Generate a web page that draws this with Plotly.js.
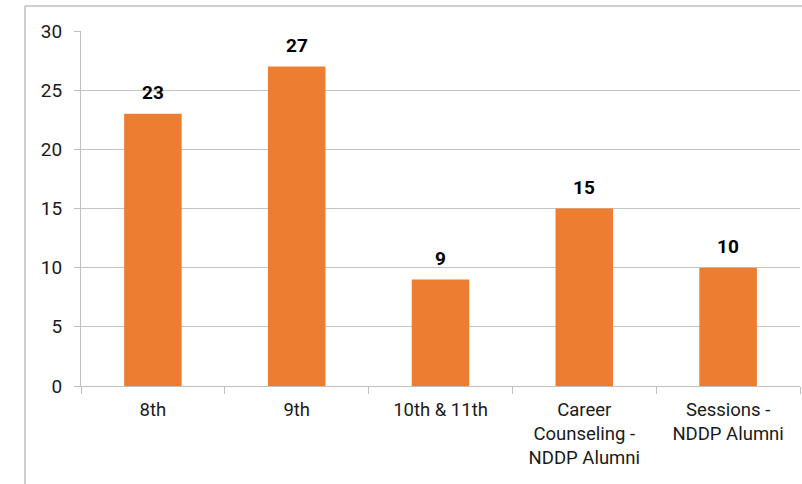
<!DOCTYPE html>
<html>
<head>
<meta charset="utf-8">
<script src="https://cdn.plot.ly/plotly-3.0.1.min.js"></script>
<style>html,body{margin:0;padding:0;background:#fff;}#chart{width:802px;height:484px;}</style>
</head>
<body>
<div id="chart"></div>
<script>
const categories = ["8th", "9th", "10th & 11th", "Career<br>Counseling -<br>NDDP Alumni", "Sessions -<br>NDDP Alumni"];
const values = [23, 27, 9, 15, 10];
const yTicks = [0, 5, 10, 15, 20, 25, 30];

const trace = {
  type: "bar",
  x: categories,
  y: values,
  marker: {color: "#ED7D31"},
  width: 0.4,
  hoverinfo: "none"
};

const annotations = categories.map((c, i) => ({
  x: c, y: values[i], xref: "x", yref: "y",
  text: String(values[i]), showarrow: false,
  yanchor: "bottom", yshift: 8,
  font: {family: "Roboto, sans-serif", size: 19, color: "#000", weight: "bold"}
}));

const layout = {
  width: 802, height: 484,
  margin: {l: 81, r: 2, t: 31, b: 98},
  paper_bgcolor: "#fff", plot_bgcolor: "#fff",
  showlegend: false,
  font: {family: "Roboto, sans-serif", size: 19, color: "#1a1a1a"},
  bargap: 0.6,
  xaxis: {
    type: "category",
    showgrid: false,
    showline: true, linecolor: "#bfbfbf", linewidth: 1,
    ticks: "outside", ticklen: 7, tickcolor: "#bfbfbf",
    tickson: "boundaries",
    tickfont: {size: 18.5, color: "#1a1a1a"},
    ticklabelstandoff: 7,
    zeroline: false
  },
  yaxis: {
    range: [0, 30],
    tickvals: yTicks,
    showgrid: true, gridcolor: "#c4c4c4", gridwidth: 1,
    showline: true, linecolor: "#bfbfbf", linewidth: 1,
    ticks: "outside", ticklen: 6, tickcolor: "#bfbfbf",
    tickfont: {size: 19, color: "#1a1a1a"},
    ticklabelstandoff: 8,
    zeroline: false,
    fixedrange: true
  },
  annotations: annotations,
  shapes: [
    {type: "line", xref: "paper", yref: "paper", x0: -0.0779, x1: -0.0779, y0: 1.0704, y1: -0.6, line: {color: "#bfbfbf", width: 1.5}},
    {type: "line", xref: "paper", yref: "paper", x0: -0.0779, x1: 1.1, y0: 1.0704, y1: 1.0704, line: {color: "#bfbfbf", width: 1.5}}
  ]
};

Plotly.newPlot("chart", [trace], layout, {displayModeBar: false, staticPlot: true});
</script>
</body>
</html>
